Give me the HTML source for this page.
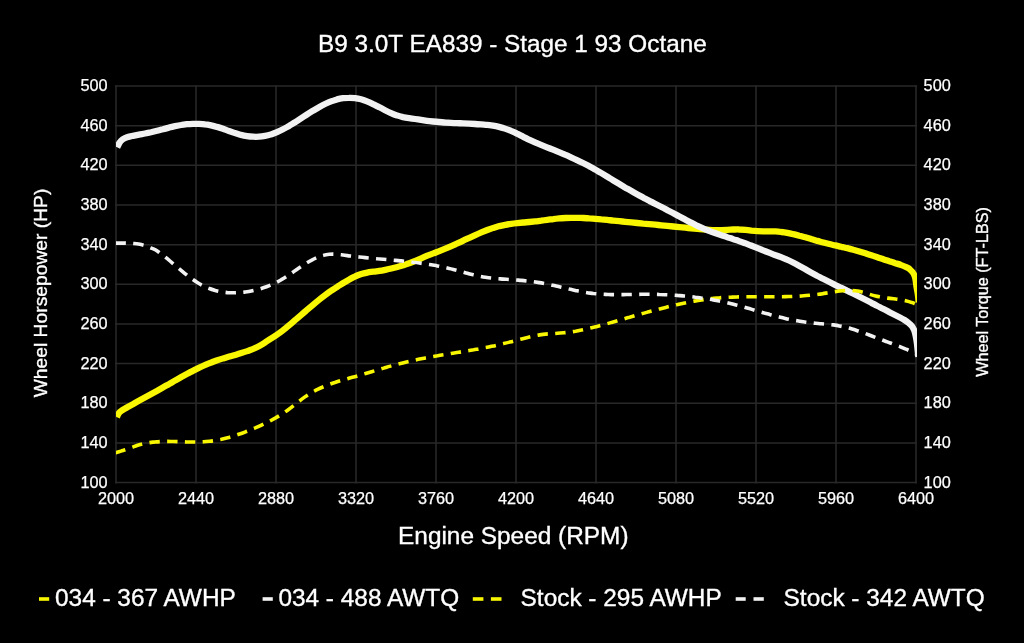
<!DOCTYPE html>
<html><head><meta charset="utf-8"><title>B9 3.0T EA839 - Stage 1 93 Octane</title>
<style>html,body{margin:0;padding:0;background:#000;width:1024px;height:643px;overflow:hidden}svg{display:block;will-change:transform}</style>
</head><body>
<svg width="1024" height="643" viewBox="0 0 1024 643">
<rect width="1024" height="643" fill="#000"/>
<g stroke="#1f1f1f" stroke-width="2" fill="none"><line x1="116.0" y1="85.2" x2="116.0" y2="483.4"/><line x1="196.0" y1="85.2" x2="196.0" y2="483.4"/><line x1="276.0" y1="85.2" x2="276.0" y2="483.4"/><line x1="356.0" y1="85.2" x2="356.0" y2="483.4"/><line x1="436.0" y1="85.2" x2="436.0" y2="483.4"/><line x1="516.0" y1="85.2" x2="516.0" y2="483.4"/><line x1="596.0" y1="85.2" x2="596.0" y2="483.4"/><line x1="676.0" y1="85.2" x2="676.0" y2="483.4"/><line x1="756.0" y1="85.2" x2="756.0" y2="483.4"/><line x1="836.0" y1="85.2" x2="836.0" y2="483.4"/><line x1="916.0" y1="85.2" x2="916.0" y2="483.4"/></g>
<g stroke="#282828" stroke-width="1.5" fill="none"><line x1="115.0" y1="86.00" x2="917.0" y2="86.00"/><line x1="115.0" y1="125.66" x2="917.0" y2="125.66"/><line x1="115.0" y1="165.32" x2="917.0" y2="165.32"/><line x1="115.0" y1="204.98" x2="917.0" y2="204.98"/><line x1="115.0" y1="244.64" x2="917.0" y2="244.64"/><line x1="115.0" y1="284.30" x2="917.0" y2="284.30"/><line x1="115.0" y1="323.96" x2="917.0" y2="323.96"/><line x1="115.0" y1="363.62" x2="917.0" y2="363.62"/><line x1="115.0" y1="403.28" x2="917.0" y2="403.28"/><line x1="115.0" y1="442.94" x2="917.0" y2="442.94"/><line x1="115.0" y1="482.60" x2="917.0" y2="482.60"/></g>
<g fill="#fff" stroke="#fff" stroke-width="0.25" font-family='"Liberation Sans", sans-serif' font-size="16.3"><text x="107.6" y="91.0" text-anchor="end">500</text><text x="923.6" y="91.0">500</text><text x="107.6" y="130.7" text-anchor="end">460</text><text x="923.6" y="130.7">460</text><text x="107.6" y="170.3" text-anchor="end">420</text><text x="923.6" y="170.3">420</text><text x="107.6" y="210.0" text-anchor="end">380</text><text x="923.6" y="210.0">380</text><text x="107.6" y="249.6" text-anchor="end">340</text><text x="923.6" y="249.6">340</text><text x="107.6" y="289.3" text-anchor="end">300</text><text x="923.6" y="289.3">300</text><text x="107.6" y="329.0" text-anchor="end">260</text><text x="923.6" y="329.0">260</text><text x="107.6" y="368.6" text-anchor="end">220</text><text x="923.6" y="368.6">220</text><text x="107.6" y="408.3" text-anchor="end">180</text><text x="923.6" y="408.3">180</text><text x="107.6" y="447.9" text-anchor="end">140</text><text x="923.6" y="447.9">140</text><text x="107.6" y="487.6" text-anchor="end">100</text><text x="923.6" y="487.6">100</text><text x="116.0" y="503.8" text-anchor="middle">2000</text><text x="196.0" y="503.8" text-anchor="middle">2440</text><text x="276.0" y="503.8" text-anchor="middle">2880</text><text x="356.0" y="503.8" text-anchor="middle">3320</text><text x="436.0" y="503.8" text-anchor="middle">3760</text><text x="516.0" y="503.8" text-anchor="middle">4200</text><text x="596.0" y="503.8" text-anchor="middle">4640</text><text x="676.0" y="503.8" text-anchor="middle">5080</text><text x="756.0" y="503.8" text-anchor="middle">5520</text><text x="836.0" y="503.8" text-anchor="middle">5960</text><text x="916.0" y="503.8" text-anchor="middle">6400</text></g>
<text x="512.4" y="51.5" text-anchor="middle" fill="#fff" stroke="#fff" stroke-width="0.35" font-family='"Liberation Sans", sans-serif' font-size="24.3">B9 3.0T EA839 - Stage 1 93 Octane</text>
<text x="513.3" y="544.2" text-anchor="middle" fill="#fff" stroke="#fff" stroke-width="0.35" font-family='"Liberation Sans", sans-serif' font-size="24.4">Engine Speed (RPM)</text>
<text transform="translate(47.2 293) rotate(-90)" text-anchor="middle" fill="#fff" stroke="#fff" stroke-width="0.35" font-family='"Liberation Sans", sans-serif' font-size="19.25">Wheel Horsepower (HP)</text>
<text transform="translate(988.3 292) rotate(-90)" text-anchor="middle" fill="#fff" stroke="#fff" stroke-width="0.35" font-family='"Liberation Sans", sans-serif' font-size="16.2">Wheel Torque (FT-LBS)</text>
<defs><clipPath id="pc"><rect x="116" y="0" width="801" height="643"/></clipPath></defs>
<g clip-path="url(#pc)" fill="none">
<path d="M116.9 417.2 C117.2 416.6 117.9 414.7 118.6 413.6 C119.3 412.5 119.8 411.8 121.3 410.8 C122.8 409.8 125.3 408.5 127.3 407.3 C129.3 406.2 131.3 405.1 133.3 404.0 C135.3 402.8 137.3 401.7 139.3 400.6 C141.3 399.5 143.3 398.4 145.3 397.3 C147.3 396.2 149.3 395.1 151.3 394.0 C153.3 392.9 155.3 391.8 157.3 390.7 C159.3 389.6 161.3 388.4 163.3 387.3 C165.3 386.2 167.3 385.0 169.3 383.9 C171.3 382.7 173.3 381.6 175.3 380.4 C177.3 379.3 179.3 378.2 181.3 377.0 C183.3 375.9 185.3 374.8 187.3 373.7 C189.3 372.7 191.3 371.6 193.3 370.6 C195.3 369.6 197.3 368.6 199.3 367.6 C201.3 366.7 203.3 365.8 205.3 364.9 C207.3 364.0 209.3 363.2 211.3 362.5 C213.3 361.7 215.3 361.0 217.3 360.3 C219.3 359.7 221.3 359.1 223.3 358.4 C225.3 357.8 227.3 357.2 229.3 356.6 C231.3 356.0 233.3 355.5 235.3 354.9 C237.3 354.3 239.3 353.7 241.3 353.0 C243.3 352.4 245.3 351.8 247.3 351.1 C249.3 350.3 251.3 349.6 253.3 348.8 C255.3 348.0 257.3 347.1 259.3 346.0 C261.3 344.9 263.3 343.6 265.3 342.3 C267.3 341.1 269.3 339.7 271.3 338.4 C273.3 337.1 275.3 335.9 277.3 334.5 C279.3 333.1 281.3 331.7 283.3 330.1 C285.3 328.6 287.3 326.8 289.3 325.1 C291.3 323.4 293.3 321.7 295.3 320.0 C297.3 318.2 299.3 316.5 301.3 314.8 C303.3 313.1 305.3 311.4 307.3 309.7 C309.3 308.0 311.3 306.3 313.3 304.6 C315.3 302.9 317.3 301.2 319.3 299.6 C321.3 298.0 323.3 296.5 325.3 295.0 C327.3 293.5 329.3 292.0 331.3 290.7 C333.3 289.3 335.3 288.1 337.3 286.8 C339.3 285.5 341.3 284.3 343.3 283.0 C345.3 281.8 347.3 280.6 349.3 279.5 C351.3 278.3 353.3 277.3 355.3 276.4 C357.3 275.4 359.3 274.7 361.3 274.0 C363.3 273.4 365.3 273.0 367.3 272.6 C369.3 272.2 371.3 272.0 373.3 271.7 C375.3 271.4 377.3 271.2 379.3 270.9 C381.3 270.6 383.3 270.2 385.3 269.8 C387.3 269.4 389.3 269.0 391.3 268.5 C393.3 268.0 395.3 267.5 397.3 267.0 C399.3 266.5 401.3 265.9 403.3 265.3 C405.3 264.6 407.3 264.0 409.3 263.2 C411.3 262.5 413.3 261.7 415.3 260.9 C417.3 260.1 419.3 259.2 421.3 258.3 C423.3 257.5 425.3 256.6 427.3 255.7 C429.3 254.9 431.3 254.1 433.3 253.4 C435.3 252.6 437.3 251.9 439.3 251.1 C441.3 250.3 443.3 249.5 445.3 248.7 C447.3 247.9 449.3 247.0 451.3 246.1 C453.3 245.3 455.3 244.3 457.3 243.4 C459.3 242.5 461.3 241.6 463.3 240.6 C465.3 239.7 467.3 238.7 469.3 237.8 C471.3 236.9 473.3 236.0 475.3 235.1 C477.3 234.2 479.3 233.3 481.3 232.4 C483.3 231.6 485.3 230.8 487.3 230.0 C489.3 229.3 491.3 228.6 493.3 227.9 C495.3 227.3 497.3 226.7 499.3 226.1 C501.3 225.6 503.3 225.2 505.3 224.8 C507.3 224.4 509.3 224.1 511.3 223.8 C513.3 223.5 515.3 223.3 517.3 223.1 C519.3 222.9 521.3 222.7 523.3 222.5 C525.3 222.3 527.3 222.2 529.3 222.0 C531.3 221.8 533.3 221.6 535.3 221.4 C537.3 221.2 539.3 220.9 541.3 220.7 C543.3 220.4 545.3 220.1 547.3 219.8 C549.3 219.6 551.3 219.3 553.3 219.1 C555.3 218.8 557.3 218.6 559.3 218.4 C561.3 218.2 563.3 218.1 565.3 218.0 C567.3 217.9 569.3 217.8 571.3 217.8 C573.3 217.8 575.3 217.8 577.3 217.8 C579.3 217.9 581.3 217.9 583.3 218.0 C585.3 218.1 587.3 218.2 589.3 218.4 C591.3 218.5 593.3 218.6 595.3 218.8 C597.3 219.0 599.3 219.2 601.3 219.4 C603.3 219.5 605.3 219.7 607.3 219.9 C609.3 220.1 611.3 220.4 613.3 220.6 C615.3 220.8 617.3 221.0 619.3 221.2 C621.3 221.4 623.3 221.6 625.3 221.8 C627.3 222.0 629.3 222.2 631.3 222.4 C633.3 222.6 635.3 222.8 637.3 223.0 C639.3 223.2 641.3 223.4 643.3 223.6 C645.3 223.7 647.3 223.9 649.3 224.1 C651.3 224.3 653.3 224.5 655.3 224.7 C657.3 224.9 659.3 225.1 661.3 225.3 C663.3 225.5 665.3 225.7 667.3 225.9 C669.3 226.1 671.3 226.3 673.3 226.5 C675.3 226.7 677.3 226.9 679.3 227.1 C681.3 227.3 683.3 227.5 685.3 227.7 C687.3 227.9 689.3 228.1 691.3 228.3 C693.3 228.5 695.3 228.7 697.3 228.9 C699.3 229.0 701.3 229.2 703.3 229.4 C705.3 229.6 707.3 229.7 709.3 229.8 C711.3 230.0 713.3 230.1 715.3 230.1 C717.3 230.1 719.3 230.1 721.3 230.1 C723.3 230.0 725.3 229.9 727.3 229.8 C729.3 229.7 731.3 229.6 733.3 229.5 C735.3 229.5 737.3 229.4 739.3 229.5 C741.3 229.5 743.3 229.7 745.3 229.9 C747.3 230.1 749.3 230.4 751.3 230.7 C753.3 230.9 755.3 231.1 757.3 231.2 C759.3 231.3 761.3 231.3 763.3 231.3 C765.3 231.4 767.3 231.3 769.3 231.3 C771.3 231.3 773.3 231.3 775.3 231.4 C777.3 231.5 779.3 231.7 781.3 232.0 C783.3 232.2 785.3 232.5 787.3 232.9 C789.3 233.3 791.3 233.7 793.3 234.2 C795.3 234.6 797.3 235.1 799.3 235.7 C801.3 236.2 803.3 236.8 805.3 237.3 C807.3 237.9 809.3 238.5 811.3 239.1 C813.3 239.7 815.3 240.3 817.3 240.9 C819.3 241.4 821.3 242.0 823.3 242.5 C825.3 243.0 827.3 243.5 829.3 244.0 C831.3 244.5 833.3 244.9 835.3 245.4 C837.3 245.9 839.3 246.3 841.3 246.8 C843.3 247.2 845.3 247.7 847.3 248.1 C849.3 248.6 851.3 249.1 853.3 249.7 C855.3 250.2 857.3 250.8 859.3 251.4 C861.3 252.0 863.3 252.6 865.3 253.2 C867.3 253.9 869.3 254.6 871.3 255.2 C873.3 255.9 875.3 256.6 877.3 257.3 C879.3 258.0 881.3 258.6 883.3 259.3 C885.3 260.0 887.3 260.6 889.3 261.3 C891.3 261.9 893.3 262.5 895.3 263.2 C897.3 263.8 899.3 264.3 901.3 265.1 C903.3 265.8 905.8 267.0 907.3 267.7 C908.8 268.4 909.0 268.5 910.0 269.5 C911.0 270.4 912.6 272.0 913.5 273.5 C914.4 275.0 914.8 276.2 915.3 278.3 C915.8 280.4 916.0 283.4 916.4 286.0 C916.8 288.6 917.4 291.2 917.8 294.0 C918.2 296.8 918.6 301.1 918.7 302.5" stroke="#f9f700" stroke-width="6.3"/>
<path d="M117.2 147.4 C117.6 146.6 118.7 143.9 119.6 142.6 C120.5 141.2 121.6 140.2 122.8 139.3 C124.0 138.4 125.3 137.8 127.0 137.2 C128.7 136.7 131.0 136.3 133.0 135.8 C135.0 135.4 137.0 135.0 139.0 134.6 C141.0 134.2 143.0 133.9 145.0 133.5 C147.0 133.1 149.0 132.7 151.0 132.3 C153.0 131.8 155.0 131.3 157.0 130.8 C159.0 130.3 161.0 129.7 163.0 129.2 C165.0 128.6 167.0 128.1 169.0 127.6 C171.0 127.0 173.0 126.5 175.0 126.1 C177.0 125.7 179.0 125.3 181.0 125.0 C183.0 124.6 185.0 124.4 187.0 124.2 C189.0 124.0 191.0 123.9 193.0 123.8 C195.0 123.8 197.0 123.8 199.0 123.9 C201.0 124.0 203.0 124.1 205.0 124.4 C207.0 124.6 209.0 125.0 211.0 125.4 C213.0 125.8 215.0 126.3 217.0 126.9 C219.0 127.4 221.0 128.1 223.0 128.8 C225.0 129.5 227.0 130.3 229.0 131.0 C231.0 131.7 233.0 132.4 235.0 133.1 C237.0 133.7 239.0 134.3 241.0 134.9 C243.0 135.4 245.0 135.8 247.0 136.1 C249.0 136.4 251.0 136.6 253.0 136.7 C255.0 136.8 257.0 136.8 259.0 136.7 C261.0 136.6 263.0 136.3 265.0 135.9 C267.0 135.6 269.0 135.1 271.0 134.4 C273.0 133.8 275.0 133.1 277.0 132.2 C279.0 131.3 281.0 130.4 283.0 129.3 C285.0 128.3 287.0 127.1 289.0 126.0 C291.0 124.8 293.0 123.5 295.0 122.3 C297.0 121.0 299.0 119.7 301.0 118.4 C303.0 117.1 305.0 115.8 307.0 114.5 C309.0 113.3 311.0 112.0 313.0 110.7 C315.0 109.5 317.0 108.3 319.0 107.2 C321.0 106.1 323.0 105.0 325.0 104.0 C327.0 103.1 329.0 102.2 331.0 101.4 C333.0 100.6 335.0 100.0 337.0 99.4 C339.0 98.9 341.0 98.5 343.0 98.2 C345.0 97.9 347.0 97.8 349.0 97.8 C351.0 97.7 353.0 97.9 355.0 98.1 C357.0 98.4 359.0 98.8 361.0 99.3 C363.0 99.9 365.0 100.6 367.0 101.4 C369.0 102.2 371.0 103.1 373.0 104.1 C375.0 105.0 377.0 106.1 379.0 107.1 C381.0 108.2 383.0 109.2 385.0 110.2 C387.0 111.2 389.0 112.2 391.0 113.1 C393.0 114.0 395.0 114.8 397.0 115.4 C399.0 116.1 401.0 116.6 403.0 117.1 C405.0 117.5 407.0 117.8 409.0 118.1 C411.0 118.4 413.0 118.7 415.0 119.0 C417.0 119.3 419.0 119.6 421.0 119.9 C423.0 120.2 425.0 120.5 427.0 120.8 C429.0 121.1 431.0 121.3 433.0 121.5 C435.0 121.7 437.0 121.9 439.0 122.0 C441.0 122.2 443.0 122.3 445.0 122.5 C447.0 122.6 449.0 122.7 451.0 122.8 C453.0 123.0 455.0 123.1 457.0 123.1 C459.0 123.2 461.0 123.3 463.0 123.4 C465.0 123.5 467.0 123.6 469.0 123.7 C471.0 123.8 473.0 123.9 475.0 124.0 C477.0 124.2 479.0 124.3 481.0 124.4 C483.0 124.6 485.0 124.7 487.0 124.9 C489.0 125.1 491.0 125.4 493.0 125.7 C495.0 126.0 497.0 126.4 499.0 126.9 C501.0 127.4 503.0 127.9 505.0 128.6 C507.0 129.3 509.0 130.0 511.0 130.9 C513.0 131.7 515.0 132.6 517.0 133.6 C519.0 134.5 521.0 135.6 523.0 136.6 C525.0 137.6 527.0 138.7 529.0 139.7 C531.0 140.6 533.0 141.5 535.0 142.4 C537.0 143.3 539.0 144.1 541.0 144.9 C543.0 145.7 545.0 146.5 547.0 147.3 C549.0 148.1 551.0 148.9 553.0 149.7 C555.0 150.5 557.0 151.4 559.0 152.2 C561.0 153.0 563.0 153.8 565.0 154.7 C567.0 155.5 569.0 156.4 571.0 157.3 C573.0 158.2 575.0 159.1 577.0 160.1 C579.0 161.0 581.0 162.0 583.0 163.0 C585.0 164.0 587.0 165.0 589.0 166.1 C591.0 167.1 593.0 168.3 595.0 169.4 C597.0 170.6 599.0 171.7 601.0 172.9 C603.0 174.1 605.0 175.3 607.0 176.5 C609.0 177.7 611.0 179.0 613.0 180.2 C615.0 181.4 617.0 182.6 619.0 183.8 C621.0 185.0 623.0 186.2 625.0 187.4 C627.0 188.5 629.0 189.7 631.0 190.8 C633.0 192.0 635.0 193.1 637.0 194.2 C639.0 195.3 641.0 196.4 643.0 197.4 C645.0 198.5 647.0 199.5 649.0 200.6 C651.0 201.6 653.0 202.7 655.0 203.7 C657.0 204.8 659.0 205.8 661.0 206.8 C663.0 207.9 665.0 208.9 667.0 209.9 C669.0 211.0 671.0 212.0 673.0 213.0 C675.0 214.1 677.0 215.1 679.0 216.2 C681.0 217.3 683.0 218.4 685.0 219.4 C687.0 220.5 689.0 221.6 691.0 222.6 C693.0 223.7 695.0 224.7 697.0 225.7 C699.0 226.6 701.0 227.5 703.0 228.4 C705.0 229.3 707.0 230.0 709.0 230.8 C711.0 231.6 713.0 232.3 715.0 233.0 C717.0 233.7 719.0 234.4 721.0 235.1 C723.0 235.8 725.0 236.4 727.0 237.1 C729.0 237.8 731.0 238.4 733.0 239.1 C735.0 239.8 737.0 240.4 739.0 241.1 C741.0 241.8 743.0 242.5 745.0 243.2 C747.0 244.0 749.0 244.7 751.0 245.5 C753.0 246.3 755.0 247.1 757.0 247.9 C759.0 248.7 761.0 249.5 763.0 250.3 C765.0 251.1 767.0 251.9 769.0 252.7 C771.0 253.5 773.0 254.2 775.0 255.0 C777.0 255.7 779.0 256.4 781.0 257.2 C783.0 258.0 785.0 258.8 787.0 259.7 C789.0 260.5 791.0 261.5 793.0 262.5 C795.0 263.5 797.0 264.6 799.0 265.7 C801.0 266.8 803.0 267.9 805.0 269.0 C807.0 270.2 809.0 271.3 811.0 272.4 C813.0 273.5 815.0 274.6 817.0 275.7 C819.0 276.7 821.0 277.8 823.0 278.8 C825.0 279.8 827.0 280.8 829.0 281.8 C831.0 282.8 833.0 283.8 835.0 284.8 C837.0 285.7 839.0 286.7 841.0 287.7 C843.0 288.6 845.0 289.6 847.0 290.6 C849.0 291.5 851.0 292.5 853.0 293.5 C855.0 294.5 857.0 295.5 859.0 296.5 C861.0 297.5 863.0 298.5 865.0 299.5 C867.0 300.5 869.0 301.5 871.0 302.6 C873.0 303.6 875.0 304.7 877.0 305.7 C879.0 306.7 881.0 307.8 883.0 308.8 C885.0 309.9 887.0 310.9 889.0 311.9 C891.0 313.0 893.2 314.1 895.0 315.0 C896.8 315.9 898.4 316.7 900.0 317.5 C901.6 318.3 903.1 319.1 904.5 320.0 C905.9 320.9 907.3 321.8 908.5 322.8 C909.7 323.8 910.8 324.8 911.8 326.0 C912.8 327.2 913.5 328.6 914.2 330.3 C914.9 332.1 915.3 334.2 915.8 336.5 C916.3 338.8 916.6 340.6 917.0 344.0 C917.4 347.4 918.1 354.8 918.3 357.0" stroke="#f2f2f2" stroke-width="6.3"/>
<path d="M115.5 452.9 C116.4 452.6 119.2 451.7 121.0 451.1 C122.8 450.5 124.6 450.0 126.5 449.3 C128.4 448.6 130.7 447.9 132.5 447.2 C134.3 446.5 135.8 445.9 137.6 445.3 C139.4 444.7 141.6 444.2 143.6 443.7 C145.6 443.2 147.6 442.9 149.6 442.6 C151.6 442.3 153.6 442.0 155.6 441.9 C157.6 441.7 159.6 441.6 161.6 441.5 C163.6 441.4 165.6 441.4 167.6 441.4 C169.6 441.4 171.6 441.5 173.6 441.5 C175.6 441.5 177.6 441.6 179.6 441.7 C181.6 441.7 183.6 441.8 185.6 441.9 C187.6 441.9 189.6 442.0 191.6 442.0 C193.6 442.1 195.6 442.1 197.6 442.0 C199.6 442.0 201.6 442.0 203.6 441.8 C205.6 441.7 207.6 441.5 209.6 441.3 C211.6 441.1 213.6 440.8 215.6 440.5 C217.6 440.1 219.6 439.7 221.6 439.3 C223.6 438.8 225.6 438.3 227.6 437.8 C229.6 437.3 231.6 436.7 233.6 436.0 C235.6 435.4 237.6 434.7 239.6 434.0 C241.6 433.4 243.6 432.6 245.6 431.8 C247.6 431.1 249.6 430.3 251.6 429.5 C253.6 428.6 255.6 427.8 257.6 426.9 C259.6 426.0 261.6 425.1 263.6 424.1 C265.6 423.2 267.6 422.2 269.6 421.2 C271.6 420.1 273.6 419.0 275.6 417.9 C277.6 416.8 279.6 415.6 281.6 414.3 C283.6 413.0 285.6 411.6 287.6 410.2 C289.6 408.8 291.6 407.2 293.6 405.6 C295.6 404.1 297.6 402.4 299.6 400.9 C301.6 399.3 303.6 397.8 305.6 396.4 C307.6 395.1 309.6 393.8 311.6 392.6 C313.6 391.5 315.6 390.4 317.6 389.4 C319.6 388.4 321.6 387.5 323.6 386.7 C325.6 385.8 327.6 385.1 329.6 384.3 C331.6 383.6 333.6 382.9 335.6 382.3 C337.6 381.6 339.6 381.0 341.6 380.4 C343.6 379.8 345.6 379.3 347.6 378.7 C349.6 378.1 351.6 377.6 353.6 377.0 C355.6 376.4 357.6 375.8 359.6 375.3 C361.6 374.7 363.6 374.1 365.6 373.5 C367.6 372.9 369.6 372.3 371.6 371.7 C373.6 371.1 375.6 370.5 377.6 369.9 C379.6 369.3 381.6 368.7 383.6 368.1 C385.6 367.5 387.6 367.0 389.6 366.4 C391.6 365.8 393.6 365.3 395.6 364.7 C397.6 364.2 399.6 363.7 401.6 363.2 C403.6 362.7 405.6 362.2 407.6 361.7 C409.6 361.3 411.6 360.8 413.6 360.4 C415.6 359.9 417.6 359.5 419.6 359.1 C421.6 358.7 423.6 358.3 425.6 357.9 C427.6 357.6 429.6 357.2 431.6 356.8 C433.6 356.5 435.6 356.1 437.6 355.8 C439.6 355.4 441.6 355.1 443.6 354.8 C445.6 354.4 447.6 354.1 449.6 353.8 C451.6 353.4 453.6 353.1 455.6 352.8 C457.6 352.5 459.6 352.1 461.6 351.8 C463.6 351.5 465.6 351.1 467.6 350.8 C469.6 350.5 471.6 350.1 473.6 349.8 C475.6 349.4 477.6 349.1 479.6 348.7 C481.6 348.3 483.6 347.9 485.6 347.5 C487.6 347.2 489.6 346.8 491.6 346.3 C493.6 345.9 495.6 345.5 497.6 345.0 C499.6 344.6 501.6 344.1 503.6 343.6 C505.6 343.2 507.6 342.7 509.6 342.1 C511.6 341.6 513.6 341.1 515.6 340.5 C517.6 340.0 519.6 339.4 521.6 338.9 C523.6 338.4 525.6 337.9 527.6 337.4 C529.6 336.9 531.6 336.4 533.6 336.0 C535.6 335.6 537.6 335.2 539.6 334.9 C541.6 334.6 543.6 334.3 545.6 334.1 C547.6 333.9 549.6 333.8 551.6 333.7 C553.6 333.6 555.6 333.5 557.6 333.3 C559.6 333.2 561.6 333.0 563.6 332.8 C565.6 332.6 567.6 332.4 569.6 332.1 C571.6 331.8 573.6 331.5 575.6 331.2 C577.6 330.8 579.6 330.4 581.6 330.0 C583.6 329.6 585.6 329.2 587.6 328.7 C589.6 328.3 591.6 327.8 593.6 327.3 C595.6 326.8 597.6 326.3 599.6 325.7 C601.6 325.2 603.6 324.7 605.6 324.1 C607.6 323.6 609.6 323.0 611.6 322.4 C613.6 321.9 615.6 321.3 617.6 320.7 C619.6 320.1 621.6 319.6 623.6 319.0 C625.6 318.4 627.6 317.8 629.6 317.3 C631.6 316.7 633.6 316.1 635.6 315.5 C637.6 315.0 639.6 314.4 641.6 313.8 C643.6 313.3 645.6 312.7 647.6 312.1 C649.6 311.6 651.6 311.0 653.6 310.5 C655.6 310.0 657.6 309.4 659.6 308.9 C661.6 308.4 663.6 307.9 665.6 307.4 C667.6 306.9 669.6 306.4 671.6 305.9 C673.6 305.4 675.6 304.9 677.6 304.5 C679.6 304.0 681.6 303.6 683.6 303.2 C685.6 302.8 687.6 302.4 689.6 302.0 C691.6 301.6 693.6 301.2 695.6 300.9 C697.6 300.5 699.6 300.2 701.6 299.9 C703.6 299.6 705.6 299.3 707.6 299.1 C709.6 298.8 711.6 298.6 713.6 298.3 C715.6 298.1 717.6 297.9 719.6 297.8 C721.6 297.6 723.6 297.5 725.6 297.4 C727.6 297.2 729.6 297.1 731.6 297.1 C733.6 297.0 735.6 296.9 737.6 296.9 C739.6 296.8 741.6 296.8 743.6 296.8 C745.6 296.7 747.6 296.7 749.6 296.7 C751.6 296.7 753.6 296.7 755.6 296.7 C757.6 296.7 759.6 296.7 761.6 296.7 C763.6 296.7 765.6 296.7 767.6 296.7 C769.6 296.7 771.6 296.7 773.6 296.7 C775.6 296.7 777.6 296.7 779.6 296.7 C781.6 296.7 783.6 296.7 785.6 296.6 C787.6 296.6 789.6 296.5 791.6 296.5 C793.6 296.4 795.6 296.3 797.6 296.2 C799.6 296.1 801.6 296.0 803.6 295.8 C805.6 295.7 807.6 295.5 809.6 295.3 C811.6 295.1 813.6 294.9 815.6 294.7 C817.6 294.4 819.6 294.2 821.6 293.9 C823.6 293.5 825.6 293.2 827.6 292.9 C829.6 292.5 831.6 292.1 833.6 291.8 C835.6 291.5 837.6 291.2 839.6 290.9 C841.6 290.7 843.6 290.5 845.6 290.4 C847.6 290.3 849.6 290.2 851.6 290.4 C853.6 290.5 855.6 290.7 857.6 291.0 C859.6 291.4 861.6 291.9 863.6 292.5 C865.6 293.0 867.6 293.7 869.6 294.3 C871.6 294.9 873.6 295.5 875.6 296.0 C877.6 296.5 879.6 296.8 881.6 297.2 C883.6 297.5 885.6 297.8 887.6 298.1 C889.6 298.4 891.6 298.6 893.6 298.8 C895.6 299.1 897.6 299.3 899.6 299.7 C901.6 300.0 903.6 300.3 905.6 300.8 C907.6 301.3 909.9 301.9 911.6 302.4 C913.3 303.0 915.3 303.8 916.0 304.0" stroke="#f9f700" stroke-width="3.6" stroke-dasharray="10.4 7.36" stroke-dashoffset="0"/>
<path d="M115.6 243.1 C116.5 243.1 119.5 243.1 121.3 243.1 C123.1 243.1 124.7 243.1 126.5 243.2 C128.3 243.2 130.0 243.2 132.0 243.4 C134.0 243.6 136.4 243.7 138.6 244.1 C140.8 244.5 143.0 245.0 145.0 245.6 C147.0 246.2 148.8 247.1 150.5 247.8 C152.2 248.5 153.5 248.8 155.3 249.8 C157.1 250.9 159.3 252.6 161.3 254.0 C163.3 255.5 165.3 257.1 167.3 258.7 C169.3 260.4 171.3 262.1 173.3 263.8 C175.3 265.4 177.3 267.2 179.3 268.9 C181.3 270.5 183.3 272.2 185.3 273.8 C187.3 275.4 189.3 277.0 191.3 278.5 C193.3 279.9 195.3 281.3 197.3 282.5 C199.3 283.8 201.3 284.9 203.3 285.9 C205.3 286.9 207.3 287.8 209.3 288.5 C211.3 289.3 213.3 289.9 215.3 290.5 C217.3 291.0 219.3 291.5 221.3 291.8 C223.3 292.1 225.3 292.4 227.3 292.6 C229.3 292.7 231.3 292.8 233.3 292.8 C235.3 292.8 237.3 292.7 239.3 292.6 C241.3 292.4 243.3 292.2 245.3 292.0 C247.3 291.7 249.3 291.4 251.3 291.0 C253.3 290.6 255.3 290.1 257.3 289.6 C259.3 289.1 261.3 288.5 263.3 287.8 C265.3 287.2 267.3 286.5 269.3 285.6 C271.3 284.8 273.3 283.9 275.3 282.9 C277.3 282.0 279.3 280.9 281.3 279.7 C283.3 278.6 285.3 277.3 287.3 276.0 C289.3 274.7 291.3 273.3 293.3 271.9 C295.3 270.5 297.3 269.1 299.3 267.8 C301.3 266.5 303.3 265.1 305.3 263.9 C307.3 262.6 309.3 261.4 311.3 260.4 C313.3 259.3 315.3 258.3 317.3 257.5 C319.3 256.6 321.3 255.9 323.3 255.4 C325.3 254.8 327.3 254.5 329.3 254.3 C331.3 254.1 333.3 254.1 335.3 254.2 C337.3 254.3 339.3 254.6 341.3 254.8 C343.3 255.1 345.3 255.4 347.3 255.6 C349.3 255.9 351.3 256.1 353.3 256.4 C355.3 256.6 357.3 256.8 359.3 257.0 C361.3 257.2 363.3 257.4 365.3 257.6 C367.3 257.8 369.3 258.0 371.3 258.2 C373.3 258.4 375.3 258.6 377.3 258.8 C379.3 258.9 381.3 259.1 383.3 259.3 C385.3 259.5 387.3 259.6 389.3 259.8 C391.3 260.0 393.3 260.2 395.3 260.4 C397.3 260.6 399.3 260.7 401.3 260.9 C403.3 261.1 405.3 261.3 407.3 261.6 C409.3 261.8 411.3 262.0 413.3 262.3 C415.3 262.5 417.3 262.7 419.3 263.0 C421.3 263.3 423.3 263.6 425.3 263.9 C427.3 264.2 429.3 264.5 431.3 264.8 C433.3 265.2 435.3 265.5 437.3 265.9 C439.3 266.3 441.3 266.7 443.3 267.1 C445.3 267.5 447.3 268.0 449.3 268.5 C451.3 268.9 453.3 269.5 455.3 270.0 C457.3 270.5 459.3 271.1 461.3 271.6 C463.3 272.1 465.3 272.7 467.3 273.2 C469.3 273.8 471.3 274.3 473.3 274.8 C475.3 275.3 477.3 275.8 479.3 276.2 C481.3 276.6 483.3 277.0 485.3 277.3 C487.3 277.6 489.3 277.9 491.3 278.1 C493.3 278.3 495.3 278.5 497.3 278.7 C499.3 278.8 501.3 279.0 503.3 279.1 C505.3 279.2 507.3 279.4 509.3 279.5 C511.3 279.6 513.3 279.8 515.3 279.9 C517.3 280.1 519.3 280.2 521.3 280.4 C523.3 280.6 525.3 280.8 527.3 281.0 C529.3 281.2 531.3 281.4 533.3 281.7 C535.3 282.0 537.3 282.3 539.3 282.6 C541.3 282.9 543.3 283.3 545.3 283.7 C547.3 284.1 549.3 284.5 551.3 284.9 C553.3 285.4 555.3 285.8 557.3 286.3 C559.3 286.8 561.3 287.2 563.3 287.7 C565.3 288.2 567.3 288.6 569.3 289.1 C571.3 289.5 573.3 290.0 575.3 290.4 C577.3 290.8 579.3 291.3 581.3 291.6 C583.3 292.0 585.3 292.4 587.3 292.7 C589.3 293.0 591.3 293.2 593.3 293.5 C595.3 293.7 597.3 293.9 599.3 294.0 C601.3 294.2 603.3 294.3 605.3 294.4 C607.3 294.5 609.3 294.5 611.3 294.6 C613.3 294.6 615.3 294.6 617.3 294.6 C619.3 294.6 621.3 294.6 623.3 294.6 C625.3 294.6 627.3 294.5 629.3 294.5 C631.3 294.5 633.3 294.4 635.3 294.4 C637.3 294.4 639.3 294.3 641.3 294.3 C643.3 294.3 645.3 294.3 647.3 294.3 C649.3 294.3 651.3 294.3 653.3 294.3 C655.3 294.4 657.3 294.4 659.3 294.5 C661.3 294.5 663.3 294.6 665.3 294.7 C667.3 294.8 669.3 294.9 671.3 295.0 C673.3 295.1 675.3 295.2 677.3 295.4 C679.3 295.5 681.3 295.7 683.3 295.9 C685.3 296.0 687.3 296.2 689.3 296.5 C691.3 296.7 693.3 296.9 695.3 297.2 C697.3 297.4 699.3 297.7 701.3 298.0 C703.3 298.2 705.3 298.6 707.3 298.9 C709.3 299.2 711.3 299.5 713.3 299.9 C715.3 300.3 717.3 300.7 719.3 301.1 C721.3 301.5 723.3 301.9 725.3 302.3 C727.3 302.8 729.3 303.3 731.3 303.7 C733.3 304.2 735.3 304.8 737.3 305.3 C739.3 305.8 741.3 306.4 743.3 306.9 C745.3 307.5 747.3 308.1 749.3 308.6 C751.3 309.2 753.3 309.8 755.3 310.4 C757.3 311.0 759.3 311.5 761.3 312.1 C763.3 312.7 765.3 313.3 767.3 313.8 C769.3 314.4 771.3 314.9 773.3 315.5 C775.3 316.0 777.3 316.5 779.3 317.0 C781.3 317.5 783.3 318.0 785.3 318.4 C787.3 318.9 789.3 319.3 791.3 319.7 C793.3 320.1 795.3 320.5 797.3 320.8 C799.3 321.2 801.3 321.5 803.3 321.8 C805.3 322.1 807.3 322.3 809.3 322.6 C811.3 322.8 813.3 323.1 815.3 323.3 C817.3 323.5 819.3 323.6 821.3 323.8 C823.3 324.0 825.3 324.1 827.3 324.3 C829.3 324.5 831.3 324.7 833.3 324.9 C835.3 325.2 837.3 325.5 839.3 325.9 C841.3 326.3 843.3 326.7 845.3 327.2 C847.3 327.7 849.3 328.2 851.3 328.8 C853.3 329.4 855.3 330.0 857.3 330.7 C859.3 331.4 861.3 332.1 863.3 332.8 C865.3 333.5 867.3 334.2 869.3 335.0 C871.3 335.7 873.3 336.5 875.3 337.3 C877.3 338.1 879.3 338.8 881.3 339.6 C883.3 340.4 885.3 341.1 887.3 341.9 C889.3 342.7 891.3 343.4 893.3 344.2 C895.3 344.9 897.3 345.7 899.3 346.4 C901.3 347.2 903.3 348.0 905.3 348.9 C907.3 349.7 909.5 350.7 911.3 351.5 C913.1 352.4 915.2 353.5 916.0 353.9" stroke="#f2f2f2" stroke-width="3.6" stroke-dasharray="10.4 7.36" stroke-dashoffset="0.1"/>
</g>
<rect x="39" y="597.2" width="10.2" height="3.6" fill="#f9f700"/><rect x="262.6" y="597.2" width="10.2" height="3.6" fill="#f2f2f2"/><rect x="472.8" y="597.2" width="10.6" height="3.6" fill="#f9f700"/><rect x="490.9" y="597.2" width="10.6" height="3.6" fill="#f9f700"/><rect x="735.7" y="597.2" width="10" height="3.6" fill="#f2f2f2"/><rect x="753.5" y="597.2" width="10.3" height="3.6" fill="#f2f2f2"/>
<g fill="#fff" stroke="#fff" stroke-width="0.35" font-family='"Liberation Sans", sans-serif' font-size="24.4">
<text x="55.0" y="605.9">034 - 367 AWHP</text>
<text x="278.4" y="605.9">034 - 488 AWTQ</text>
<text x="520.6" y="605.9">Stock - 295 AWHP</text>
<text x="783.6" y="605.9">Stock - 342 AWTQ</text>
</g>
</svg>
</body></html>
